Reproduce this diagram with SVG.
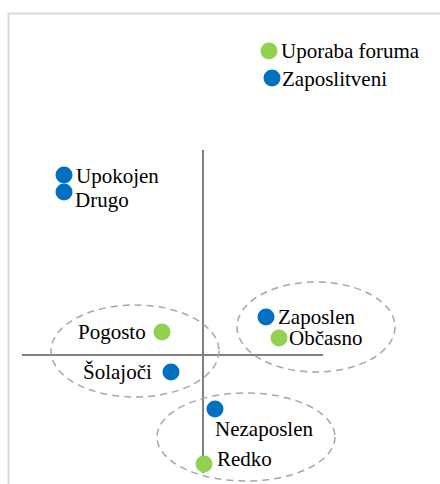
<svg xmlns="http://www.w3.org/2000/svg" width="440" height="484" viewBox="0 0 440 484">
<style>
.g{fill:#92D050}
.b{fill:#0070C0}
.ax{stroke:#808080;stroke-width:2;fill:none}
.cl{stroke:#A6A6A6;stroke-width:1.5;stroke-dasharray:7 5;fill:none}
</style>
<rect width="440" height="484" fill="#fff"/>
<path d="M8.5 484 V13.5 H440" fill="none" stroke="#D9D9D9" stroke-width="2"/>
<g id="axes">
<line class="ax" x1="203" y1="150" x2="203" y2="473"/>
<line class="ax" x1="22" y1="355" x2="323" y2="355"/>
</g>
<g id="clusters">
<ellipse class="cl" cx="135" cy="351" rx="84" ry="46"/>
<ellipse class="cl" cx="316" cy="327" rx="79" ry="45"/>
<ellipse class="cl" cx="246" cy="437" rx="89" ry="44"/>
</g>
<g fill="#000">
<g id="uporaba"><circle class="g" cx="269" cy="51" r="8.5"/><text x="281" y="58" font-family="Liberation Serif" font-size="21">Uporaba foruma</text></g>
<g id="zaposlitveni"><circle class="b" cx="272" cy="78" r="8.5"/><text x="282" y="86" font-family="Liberation Serif" font-size="21">Zaposlitveni</text></g>
<g id="upokojen"><circle class="b" cx="64" cy="175" r="8.5"/><text x="76" y="183" font-family="Liberation Serif" font-size="21">Upokojen</text></g>
<g id="drugo"><circle class="b" cx="64" cy="192" r="8.5"/><text x="75" y="207" font-family="Liberation Serif" font-size="21">Drugo</text></g>
<g id="pogosto"><circle class="g" cx="162" cy="332" r="8.5"/><text x="78" y="339" font-family="Liberation Serif" font-size="21">Pogosto</text></g>
<g id="solajoci"><circle class="b" cx="171" cy="372" r="8.5"/><text x="83" y="379" font-family="Liberation Serif" font-size="21">Šolajoči</text></g>
<g id="zaposlen"><circle class="b" cx="266" cy="317" r="8.5"/><text x="278" y="324" font-family="Liberation Serif" font-size="21">Zaposlen</text></g>
<g id="obcasno"><circle class="g" cx="279" cy="338" r="8.5"/><text x="289" y="345" font-family="Liberation Serif" font-size="21">Občasno</text></g>
<g id="nezaposlen"><circle class="b" cx="215" cy="409" r="8.5"/><text x="215" y="436" font-family="Liberation Serif" font-size="21">Nezaposlen</text></g>
<g id="redko"><circle class="g" cx="204" cy="464" r="8.5"/><text x="217" y="466" font-family="Liberation Serif" font-size="21">Redko</text></g>
</g>
</svg>
